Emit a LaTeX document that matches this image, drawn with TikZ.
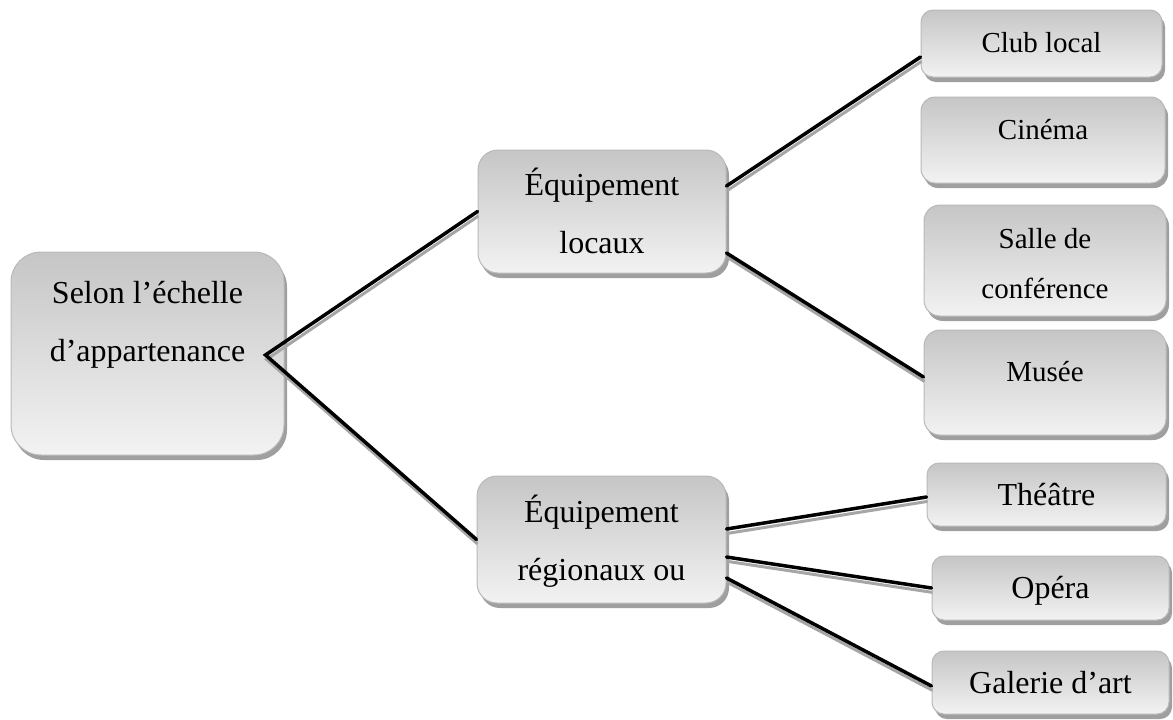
\documentclass[tikz,border=0pt]{standalone}
\usepackage{fontspec}
\setmainfont{Liberation Serif}
\usepackage{tikz}
\usetikzlibrary{shadows, calc}
\newcommand{\boxtxt}[4]{\parbox[c][#2][t]{#1}{\centering\rule{0pt}{#3}#4}}
\begin{document}
\begin{tikzpicture}[
  x=0.5pt, y=-0.5pt,
  box/.style={rectangle, inner sep=0pt, draw=gray!55, line width=0.5pt,
    top color=gray!45, bottom color=gray!10,
    drop shadow={shadow xshift=1.5pt, shadow yshift=-2.5pt,
      fill=gray!75, opacity=1}},
  bigtxt/.style={box, font=\fontsize{16pt}{29pt}\selectfont},
  smalltxt/.style={box, font=\fontsize{14.5pt}{25pt}\selectfont},
  link/.style={line width=1.75pt, line cap=round,
    preaction={draw=gray!70, line width=1.5pt,
      transform canvas={shift={(0.5pt,-2.2pt)}}}}
]
  \useasboundingbox (0,0) rectangle (1173,719);

  \node[bigtxt, rounded corners=15pt] (root) at (147.5,353.5)
    {\boxtxt{136.5pt}{101.5pt}{25.5pt}{Selon l’échelle\\d’appartenance}};
  \node[bigtxt, rounded corners=10pt] (eqloc) at (602,211.5)
    {\boxtxt{124pt}{61.5pt}{22.5pt}{Équipement\\locaux}};
  \node[bigtxt, rounded corners=10pt] (eqreg) at (601.5,539.5)
    {\boxtxt{124.5pt}{63.5pt}{23pt}{Équipement\\régionaux ou}};

  \node[smalltxt, rounded corners=6pt] (club) at (1041.5,43.5)
    {\boxtxt{120.5pt}{33.5pt}{21pt}{Club local}};
  \node[smalltxt, rounded corners=7pt] (cinema) at (1043,140)
    {\boxtxt{122pt}{43pt}{21pt}{Cinéma}};
  \node[smalltxt, rounded corners=8pt] (salle) at (1045,260.5)
    {\boxtxt{121pt}{55.5pt}{21.5pt}{Salle de\\conférence}};
  \node[smalltxt, rounded corners=8pt] (musee) at (1045,382.5)
    {\boxtxt{121pt}{52.5pt}{25.5pt}{Musée}};

  \node[bigtxt, rounded corners=6pt] (theatre) at (1046.5,494.5)
    {\boxtxt{119.5pt}{31.5pt}{21pt}{Théâtre}};
  \node[bigtxt, rounded corners=6pt] (opera) at (1050.5,588)
    {\boxtxt{118.5pt}{32pt}{21pt}{Opéra}};
  \node[bigtxt, rounded corners=6pt] (galerie) at (1050.5,682.5)
    {\boxtxt{118.5pt}{31.5pt}{21pt}{Galerie d’art}};

  \coordinate (fork) at ($(root.east)+(-19,1.5)$);
  \draw[link] (eqloc.west) -- (fork) -- (eqreg.west);

  \draw[link] ($(eqloc.east)+(0,-25.5)$) -- ($(club.west)+(0,13.5)$);
  \draw[link] ($(eqloc.east)+(0,41.5)$) -- ($(musee.west)+(0,-5.5)$);

  \draw[link] ($(eqreg.east)+(0,-10.5)$) -- ($(theatre.west)+(0,2.5)$);
  \draw[link] ($(eqreg.east)+(0,17.5)$) -- (opera.west);
  \draw[link] ($(eqreg.east)+(0,38.5)$) -- ($(galerie.west)+(0,3.5)$);
\end{tikzpicture}
\end{document}
